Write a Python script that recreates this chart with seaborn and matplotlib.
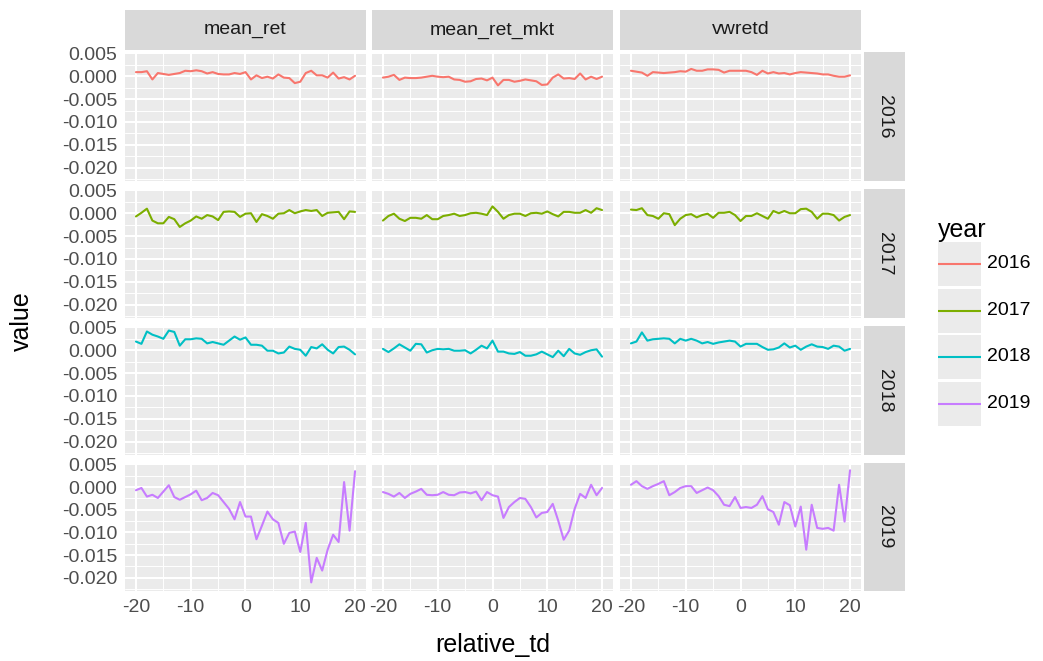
import matplotlib
matplotlib.use("Agg")
import matplotlib.pyplot as plt
import numpy as np
import pandas as pd
import seaborn as sns
from matplotlib.ticker import FixedLocator

# ---------------- data ----------------
relative_td = list(range(-20, 21))
years = [2016, 2017, 2018, 2019]
variables = ["mean_ret", "mean_ret_mkt", "vwretd"]
year_colors = ["#F8766D", "#7CAE00", "#00BFC4", "#C77CFF"]

mean_ret_2016 = [0.0009, 0.0009, 0.0011, -0.0007, 0.0007, 0.0005, 0.0003, 0.0005, 0.0007, 0.0012,
                 0.0011, 0.0013, 0.0011, 0.0006, 0.0009, 0.0005, 0.0004, 0.0004, 0.0007, 0.0005,
                 0.0009, -0.0007, 0.0002, -0.0004, -0.0001, -0.0005, 0.0004, -0.0003, -0.0004, -0.0015,
                 -0.0012, 0.0007, 0.0012, 0.0002, 0.0002, -0.0003, 0.0008, -0.0005, -0.0002, -0.0007, 0.0001]
mean_ret_mkt_2016 = [-0.0003, -0.0001, 0.0003, -0.0008, -0.0003, -0.0004, -0.0004, -0.0003, -0.0001, 0.0001,
                     -0.0001, -0.0002, -0.0001, -0.0007, -0.0008, -0.0012, -0.0011, -0.0006, -0.0005, -0.0009,
                     -0.0003, -0.0020, -0.0008, -0.0008, -0.0012, -0.0010, -0.0007, -0.0009, -0.0011, -0.0019,
                     -0.0018, -0.0003, 0.0004, -0.0005, -0.0004, -0.0006, 0.0006, -0.0007, -0.0001, -0.0006, -0.0001]
vwretd_2016 = [0.0012, 0.0010, 0.0008, 0.0001, 0.0009, 0.0008, 0.0007, 0.0008, 0.0009, 0.0011,
               0.0010, 0.0016, 0.0012, 0.0012, 0.0015, 0.0015, 0.0014, 0.0008, 0.0012, 0.0012,
               0.0012, 0.0012, 0.0009, 0.0003, 0.0012, 0.0006, 0.0009, 0.0006, 0.0007, 0.0004,
               0.0007, 0.0009, 0.0008, 0.0007, 0.0006, 0.0004, 0.0004, 0.0001, -0.0001, -0.0001, 0.0002]

mean_ret_2017 = [-0.0007, 0.0001, 0.0010, -0.0016, -0.0022, -0.0022, -0.0008, -0.0013, -0.0030, -0.0022,
                 -0.0016, -0.0007, -0.0012, -0.0004, -0.0007, -0.0015, 0.0003, 0.0004, 0.0003, -0.0008,
                 -0.0001, 0.0000, -0.0019, -0.0002, -0.0006, -0.0012, -0.0001, 0.0000, 0.0007, 0.0000,
                 0.0004, 0.0007, 0.0005, 0.0007, -0.0006, 0.0001, 0.0002, 0.0003, -0.0013, 0.0004, 0.0003]
mean_ret_mkt_2017 = [-0.0016, -0.0006, -0.0001, -0.0012, -0.0017, -0.0010, -0.0010, -0.0012, -0.0004, -0.0013,
                     -0.0013, -0.0006, -0.0004, -0.0001, -0.0006, -0.0004, 0.0000, 0.0001, -0.0001, -0.0004,
                     0.0015, 0.0003, -0.0012, -0.0004, -0.0001, -0.0001, -0.0006, 0.0000, 0.0001, -0.0001,
                     0.0004, -0.0002, -0.0007, 0.0003, 0.0003, 0.0001, 0.0001, 0.0007, 0.0001, 0.0011, 0.0007]
vwretd_2017 = [0.0008, 0.0007, 0.0011, -0.0004, -0.0006, -0.0012, 0.0000, -0.0002, -0.0026, -0.0012,
               -0.0004, -0.0002, -0.0009, -0.0004, -0.0001, -0.0010, 0.0001, 0.0001, 0.0003, -0.0004,
               -0.0017, -0.0006, -0.0006, 0.0000, -0.0006, -0.0012, 0.0005, 0.0000, 0.0005, 0.0000,
               0.0000, 0.0009, 0.0010, 0.0003, -0.0012, -0.0001, -0.0001, -0.0004, -0.0016, -0.0008, -0.0004]

mean_ret_2018 = [0.0019, 0.0014, 0.0041, 0.0034, 0.0030, 0.0025, 0.0043, 0.0040, 0.0010, 0.0024,
                 0.0024, 0.0026, 0.0025, 0.0015, 0.0018, 0.0015, 0.0012, 0.0021, 0.0030, 0.0023,
                 0.0028, 0.0012, 0.0012, 0.0010, -0.0001, -0.0001, -0.0007, -0.0005, 0.0008, 0.0003,
                 0.0001, -0.0012, 0.0007, 0.0004, 0.0013, 0.0001, -0.0007, 0.0007, 0.0008, 0.0001, -0.0009]
mean_ret_mkt_2018 = [0.0003, -0.0004, 0.0004, 0.0013, 0.0006, -0.0001, 0.0014, 0.0013, -0.0005, 0.0000,
                     0.0003, 0.0002, 0.0003, -0.0001, -0.0001, 0.0000, -0.0007, 0.0001, 0.0010, 0.0004,
                     0.0021, -0.0003, -0.0003, -0.0007, -0.0008, -0.0004, -0.0012, -0.0012, -0.0009, -0.0003,
                     -0.0009, -0.0015, -0.0001, -0.0013, 0.0003, -0.0007, -0.0010, -0.0004, 0.0000, 0.0002, -0.0014]
vwretd_2018 = [0.0015, 0.0019, 0.0039, 0.0021, 0.0024, 0.0025, 0.0026, 0.0025, 0.0015, 0.0025,
               0.0021, 0.0025, 0.0021, 0.0015, 0.0018, 0.0014, 0.0017, 0.0019, 0.0021, 0.0019,
               0.0008, 0.0014, 0.0014, 0.0014, 0.0007, 0.0001, 0.0002, 0.0006, 0.0015, 0.0006,
               0.0010, 0.0001, 0.0008, 0.0013, 0.0008, 0.0007, 0.0003, 0.0010, 0.0008, -0.0001, 0.0003]

mean_ret_2019 = [-0.0007, -0.0002, -0.0021, -0.0017, -0.0024, -0.0010, 0.0004, -0.0022, -0.0028, -0.0022,
                 -0.0016, -0.0008, -0.0029, -0.0024, -0.0013, -0.0018, -0.0033, -0.0048, -0.0071, -0.0033,
                 -0.0065, -0.0065, -0.0115, -0.0085, -0.0054, -0.0071, -0.0079, -0.0125, -0.0101, -0.0098,
                 -0.0143, -0.0079, -0.0210, -0.0156, -0.0184, -0.0138, -0.0105, -0.0121, 0.0011, -0.0096, 0.0035]
mean_ret_mkt_2019 = [-0.0011, -0.0015, -0.0021, -0.0013, -0.0024, -0.0015, -0.0010, -0.0004, -0.0017, -0.0018,
                     -0.0017, -0.0011, -0.0017, -0.0018, -0.0012, -0.0011, -0.0014, -0.0010, -0.0029, -0.0011,
                     -0.0018, -0.0021, -0.0068, -0.0044, -0.0033, -0.0024, -0.0026, -0.0044, -0.0067, -0.0057,
                     -0.0055, -0.0037, -0.0074, -0.0116, -0.0096, -0.0048, -0.0015, -0.0024, 0.0005, -0.0018, -0.0002]
vwretd_2019 = [0.0005, 0.0013, 0.0002, -0.0004, 0.0002, 0.0007, 0.0013, -0.0018, -0.0011, -0.0002,
               0.0002, 0.0002, -0.0013, -0.0007, -0.0001, -0.0007, -0.0020, -0.0039, -0.0042, -0.0022,
               -0.0046, -0.0044, -0.0046, -0.0039, -0.0020, -0.0049, -0.0055, -0.0083, -0.0033, -0.0040,
               -0.0087, -0.0043, -0.0138, -0.0039, -0.0090, -0.0092, -0.0090, -0.0096, 0.0005, -0.0076, 0.0037]

series = {
    (2016, "mean_ret"): mean_ret_2016, (2016, "mean_ret_mkt"): mean_ret_mkt_2016, (2016, "vwretd"): vwretd_2016,
    (2017, "mean_ret"): mean_ret_2017, (2017, "mean_ret_mkt"): mean_ret_mkt_2017, (2017, "vwretd"): vwretd_2017,
    (2018, "mean_ret"): mean_ret_2018, (2018, "mean_ret_mkt"): mean_ret_mkt_2018, (2018, "vwretd"): vwretd_2018,
    (2019, "mean_ret"): mean_ret_2019, (2019, "mean_ret_mkt"): mean_ret_mkt_2019, (2019, "vwretd"): vwretd_2019,
}
rows = []
for (yr, var), vals in series.items():
    for t, v in zip(relative_td, vals):
        rows.append({"year": yr, "variable": var, "relative_td": t, "value": v})
df = pd.DataFrame(rows)

x_ticks = [-20, -10, 0, 10, 20]
y_ticks = [-0.020, -0.015, -0.010, -0.005, 0.000, 0.005]

# ---------------- layout ----------------
sns.set_style("white")
plt.rcParams["font.family"] = ["Liberation Sans", "DejaVu Sans"]

W, H = 1043, 661
fig = plt.figure(figsize=(W / 100, H / 100), dpi=100)
fig.patch.set_facecolor("white")


def rect(x0, y0, x1, y1):
    return [x0 / W, 1 - y1 / H, (x1 - x0) / W, (y1 - y0) / H]


col_x = [(125, 366), (372, 613), (620, 861)]
row_y = [(52, 181), (189, 318), (326, 455), (463, 591)]
ylim = (-0.0229, 0.0053)
xlim = (-22, 22)

for r, yr in enumerate(years):
    for c, var in enumerate(variables):
        x0, x1 = col_x[c]
        y0, y1 = row_y[r]
        ax = fig.add_axes(rect(x0, y0, x1, y1))
        ax.set_facecolor("#EBEBEB")
        sub = df[(df["year"] == yr) & (df["variable"] == var)]
        sns.lineplot(data=sub, x="relative_td", y="value", color=year_colors[r],
                     linewidth=1.5, ax=ax, legend=False)
        ax.set_xlim(*xlim)
        ax.set_ylim(*ylim)
        ax.set_xticks(x_ticks)
        ax.set_yticks(y_ticks)
        ax.xaxis.set_minor_locator(FixedLocator([-15, -5, 5, 15]))
        ax.yaxis.set_minor_locator(FixedLocator([-0.0225, -0.0175, -0.0125, -0.0075, -0.0025, 0.0025]))
        ax.grid(True, which="major", color="white", linewidth=1.5)
        ax.grid(True, which="minor", color="white", linewidth=0.7)
        ax.set_axisbelow(True)
        for s in ax.spines.values():
            s.set_visible(False)
        ax.tick_params(which="minor", length=0)
        ax.tick_params(which="major", length=3.5, width=1.1, color="#333333",
                       labelsize=14, labelcolor="#4D4D4D", pad=2)
        ax.set_xlabel("")
        ax.set_ylabel("")
        if c == 0:
            ax.set_yticklabels([f"{v:.3f}" for v in y_ticks])
        else:
            ax.tick_params(axis="y", which="major", length=0, labelleft=False)
        if r == len(years) - 1:
            ax.set_xticklabels([str(v) for v in x_ticks])
        else:
            ax.tick_params(axis="x", which="major", length=0, labelbottom=False)

# top strips
for c, var in enumerate(variables):
    x0, x1 = col_x[c]
    sax = fig.add_axes(rect(x0, 10, x1, 50))
    sax.set_facecolor("#D9D9D9")
    sax.set_xticks([]); sax.set_yticks([])
    for s in sax.spines.values():
        s.set_visible(False)
    sax.text(0.5, 0.5, var, ha="center", va="center", fontsize=14, color="#1A1A1A",
             transform=sax.transAxes)

# right strips
for r, yr in enumerate(years):
    y0, y1 = row_y[r]
    sax = fig.add_axes(rect(864, y0, 905, y1))
    sax.set_facecolor("#D9D9D9")
    sax.set_xticks([]); sax.set_yticks([])
    for s in sax.spines.values():
        s.set_visible(False)
    sax.text(0.5, 0.5, str(yr), ha="center", va="center", fontsize=14, color="#1A1A1A",
             rotation=-90, transform=sax.transAxes)

# axis titles
fig.text(22 / W, 1 - 321 / H, "value", rotation=90, ha="center", va="center", fontsize=18, color="black")
fig.text(493 / W, 1 - 645 / H, "relative_td", ha="center", va="center", fontsize=18, color="black")

# legend
fig.text(938 / W, 1 - 230 / H, "year", ha="left", va="center", fontsize=18, color="black")
key_h = 46.5
for i, yr in enumerate(years):
    ky0 = 242 + i * key_h
    kax = fig.add_axes(rect(938, ky0, 981, ky0 + 44))
    kax.set_facecolor("#EBEBEB")
    kax.plot([0, 1], [0.5, 0.5], color=year_colors[i], linewidth=1.5)
    kax.set_xlim(0, 1); kax.set_ylim(0, 1)
    kax.set_xticks([]); kax.set_yticks([])
    for s in kax.spines.values():
        s.set_visible(False)
    fig.text(987 / W, 1 - (ky0 + 22) / H, str(yr), ha="left", va="center", fontsize=14, color="black")

fig.savefig("out.png", dpi=100)
